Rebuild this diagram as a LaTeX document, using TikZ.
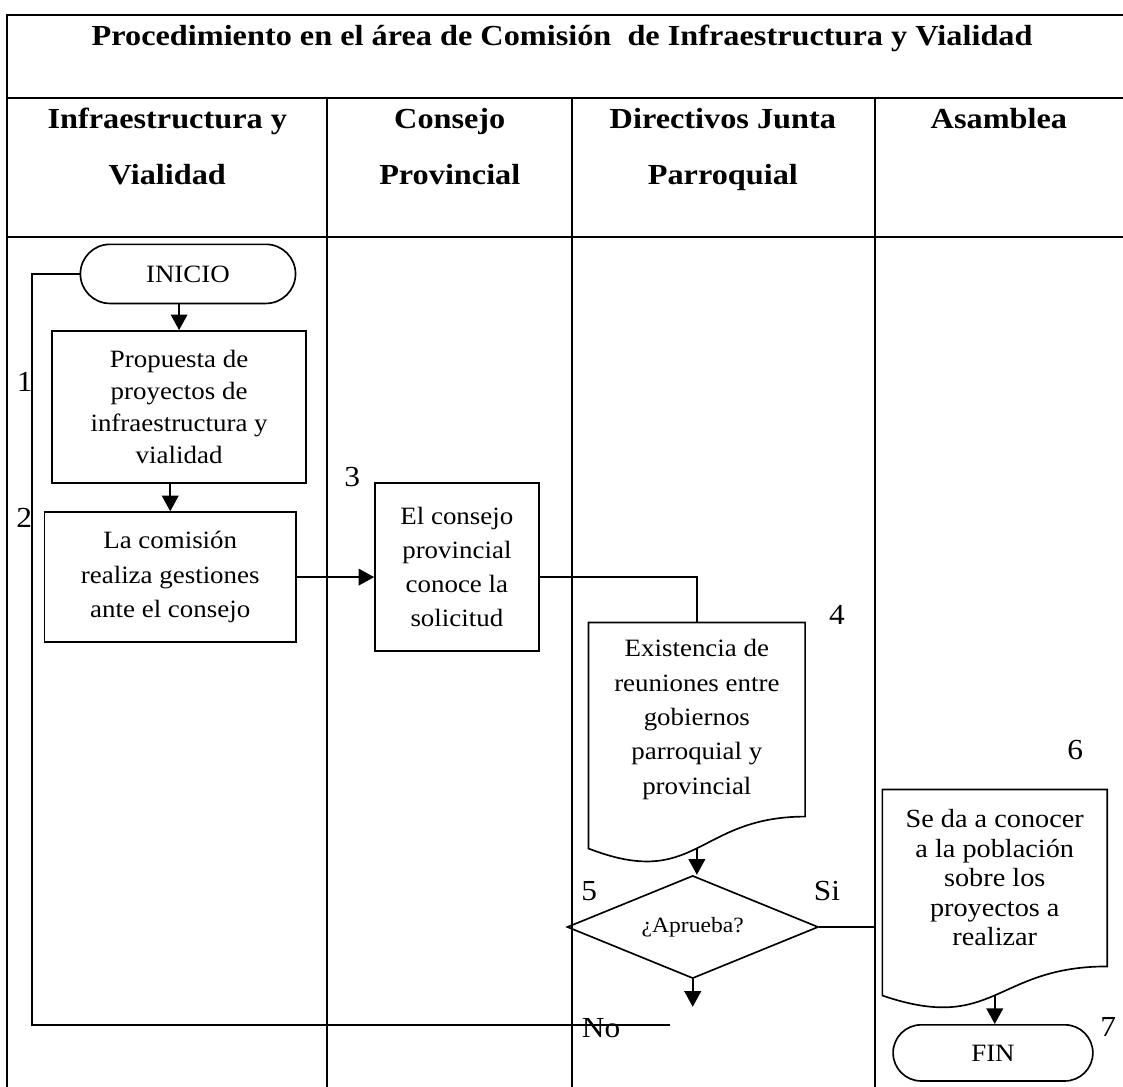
\documentclass[tikz,border=0pt]{standalone}
\usepackage{fontspec}
\setmainfont{Liberation Serif}[FakeStretch=1.08, BoldFeatures={FakeStretch=1.11}]
\usetikzlibrary{calc,arrows.meta,shapes.geometric,shapes.misc}
\tikzset{
	tabline/.style={line width=1.2pt},
	flow/.style={line width=0.8pt},
	arr/.style={line width=0.8pt, -{Triangle[width=8pt,length=7.5pt]}},
	lanehead/.style={font=\bfseries\fontsize{14}{27}\selectfont, align=center, inner sep=0pt},
	procbox/.style={draw, line width=0.8pt, inner sep=0pt, align=center, font=\fontsize{12}{16.5}\selectfont},
	docbox/.style={inner sep=0pt, align=center, font=\fontsize{12}{16.5}\selectfont},
	termbox/.style={draw, line width=0.8pt, rounded rectangle, inner sep=0pt, font=\fontsize{12}{14}\selectfont},
	askbox/.style={draw, line width=0.8pt, diamond, aspect=2.4, inner sep=0pt, font=\fontsize{10.5}{12}\selectfont},
	stepnum/.style={inner sep=0pt, font=\fontsize{14}{16}\selectfont},
}
% outline of a document symbol around a docbox node, wavy bottom edge
\def\docoutline(#1){
	\draw[flow] let \p1=($(#1.north)-(#1.south)$) in
		(#1.north west) -- (#1.north east) -- (#1.south east)
		.. controls (#1.south) and ($(#1.south)+(0,-0.381*\y1)$) .. ($(#1.south west)+(0,-0.1646*\y1)$) -- cycle;
	\path let \p1=($(#1.north)-(#1.south)$) in ($(#1.south)+(0,-0.1634*\y1)$) coordinate (#1-w);
}

\begin{document}
\begin{tikzpicture}
	%%%%% START %%%%%
	\useasboundingbox (0, 0) rectangle (19, 18.374);
	
	% table
	\draw[tabline] (0.12, -0.3) |- (19.3, 18.12);
	\draw[tabline] (0.12, 16.72) -- (19.3, 16.72);
	\draw[tabline] (0.12, 14.36) -- (19.3, 14.36);
	\draw[line width=1pt] (5.53, 16.72) -- (5.53, -0.3);
	\draw[line width=1pt] (9.68, 16.72) -- (9.68, -0.3);
	\draw[line width=1pt] (14.80, 16.72) -- (14.80, -0.3);
	
	\node[lanehead] (titulo) at (9.51, 17.72) {Procedimiento en el área de Comisión\ \ de Infraestructura y Vialidad};
	\node[lanehead] (carril1) at (2.83, 15.90) {Infraestructura y\\Vialidad};
	\node[lanehead] (carril2) at (7.61, 15.90) {Consejo\\Provincial};
	\node[lanehead] (carril3) at (12.23, 15.85) {Directivos Junta\\Parroquial};
	\node[lanehead] (carril4) at (16.90, 16.37) {Asamblea};
	
	% flow
	\node[termbox, minimum width=3.64cm, minimum height=1cm] (inicio) at (3.18, 13.74) {INICIO};
	\node[procbox, minimum width=4.30cm, minimum height=2.57cm, font=\fontsize{12}{15.4}\selectfont] (propuesta) at (3.03, 11.49) {Propuesta de\\proyectos de\\infraestructura y\\vialidad};
	\node[procbox, minimum width=4.25cm, minimum height=2.20cm] (gestion) at (2.88, 8.61) {La comisión\\realiza gestiones\\ante el consejo};
	\node[procbox, minimum width=2.77cm, minimum height=2.84cm] (consejo) at (7.73, 8.78) {El consejo\\provincial\\conoce la\\solicitud};
	\node[docbox, minimum width=3.65cm, minimum height=3.27cm] (reunion) at (11.79, 6.20) {Existencia de\\reuniones entre\\gobiernos\\parroquial y\\provincial};
	\docoutline(reunion)
	\node[askbox, minimum width=4.25cm, minimum height=1.74cm] (aprueba) at (11.72, 2.69) {¿Aprueba?};
	\node[docbox, minimum width=3.79cm, minimum height=2.98cm, font=\fontsize{12.6}{14.2}\selectfont] (difusion) at (16.83, 3.52) {Se da a conocer\\a la población\\sobre los\\proyectos a\\realizar};
	\docoutline(difusion)
	\node[termbox, minimum width=3.38cm, minimum height=0.95cm] (fin) at (16.80, 0.56) {FIN};
	
	\coordinate (noflecha) at (11.72, 1.34);
	\coordinate (noend) at (11.34, 1.03);
	\coordinate (vuelta) at (0.54, 1.03);
	\coordinate (sicarril) at (14.80, 2.69);
	
	\draw[arr] (propuesta.north |- inicio.south) -- (propuesta.north);
	\draw[arr] (gestion.north |- propuesta.south) -- (gestion.north);
	\draw[arr] (gestion.east) -- (gestion.east -| consejo.west);
	\draw[flow] (consejo.east |- gestion.east) -| (reunion.north);
	\draw[arr] (reunion-w) -- (reunion-w |- aprueba.north);
	\draw[arr] (aprueba.south) -- (noflecha);
	\draw[flow] (aprueba.east) -- (sicarril);
	\draw[flow] (noend) -- (vuelta) |- (inicio.west);
	\draw[arr] (difusion-w) -- (difusion-w |- fin.north);
	
	% step numbers and answers
	\node[stepnum] (n1) at (0.42, 11.91) {1};
	\node[stepnum] (n2) at (0.41, 9.61) {2};
	\node[stepnum] (n3) at (5.96, 10.30) {3};
	\node[stepnum] (n4) at (14.16, 7.97) {4};
	\node[stepnum] (n5) at (9.97, 3.30) {5};
	\node[stepnum] (si) at (13.99, 3.30) {Si};
	\node[stepnum] (n6) at (18.19, 5.69) {6};
	\node[stepnum] (n7) at (18.75, 1.00) {7};
	\node[stepnum] (no) at (10.17, 0.98) {No};
	
	%%%%% END %%%%%
\end{tikzpicture}
\end{document}
